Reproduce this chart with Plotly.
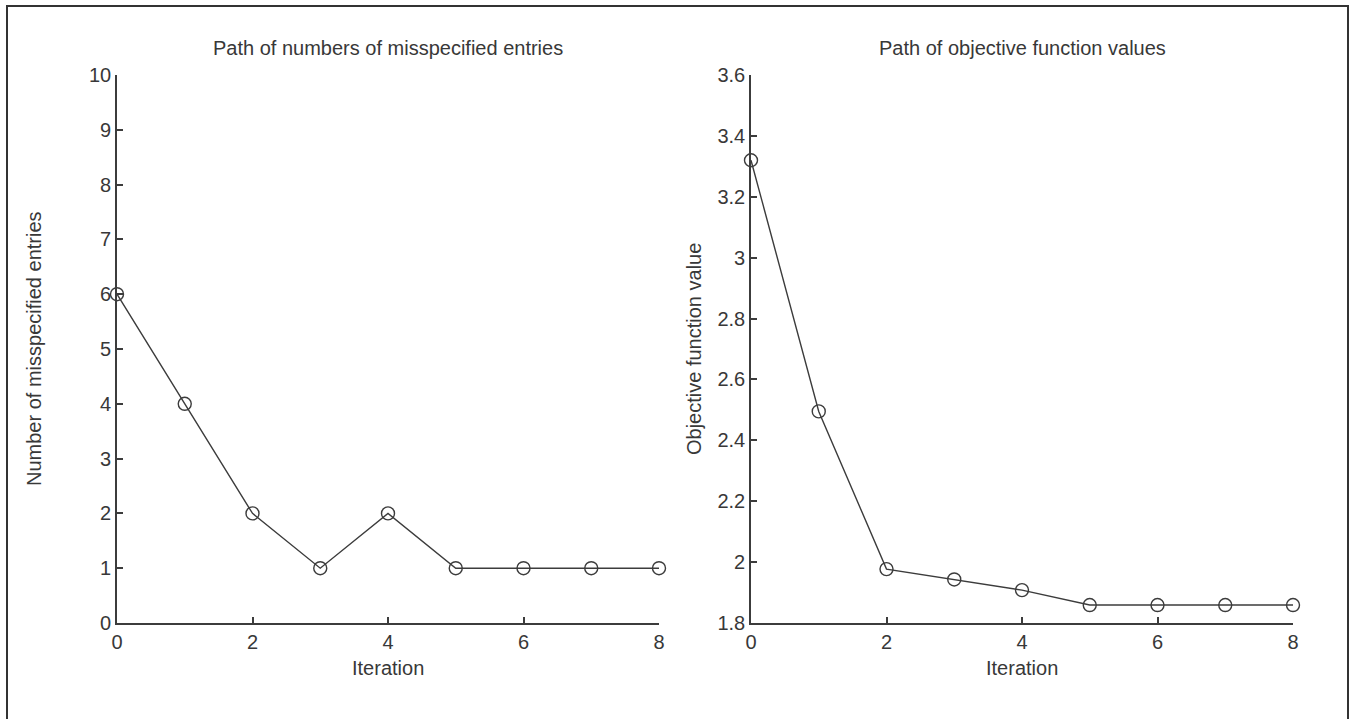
import plotly.graph_objects as go

iterations = [0, 1, 2, 3, 4, 5, 6, 7, 8]
misspecified = [6, 4, 2, 1, 2, 1, 1, 1, 1]
objective = [3.32, 2.495, 1.977, 1.943, 1.908, 1.859, 1.859, 1.859, 1.859]

left_title = "Path of numbers of misspecified entries"
right_title = "Path of objective function values"
x_title = "Iteration"
left_ytitle = "Number of misspecified entries"
right_ytitle = "Objective function value"

W, H = 1355, 719
def px(x):
    return x / W
def py(y):
    return 1 - y / H

col = "#3c3c3c"
txt = "#383838"
FS = 20
font = dict(family="Liberation Sans, Arial", size=FS, color=txt)

fig = go.Figure()
marker = dict(symbol="circle-open", size=13, color=col, line=dict(width=1.4, color=col))
fig.add_trace(go.Scatter(x=iterations, y=misspecified, mode="lines+markers",
                         line=dict(color=col, width=1.4), marker=marker,
                         xaxis="x", yaxis="y", showlegend=False, cliponaxis=False))
fig.add_trace(go.Scatter(x=iterations, y=objective, mode="lines+markers",
                         line=dict(color=col, width=1.4), marker=marker,
                         xaxis="x2", yaxis="y2", showlegend=False, cliponaxis=False))

axis_common = dict(showgrid=False, zeroline=False, showline=True, linecolor=col, linewidth=1.6,
                   ticks="inside", ticklen=6, tickcolor=col, tickwidth=1.6,
                   tickfont=font, automargin=False, mirror=False)

yd = [py(623), py(75)]
fig.update_layout(
    width=W, height=H,
    margin=dict(l=0, r=0, t=0, b=0),
    paper_bgcolor="white", plot_bgcolor="white",
    xaxis=dict(domain=[px(117), px(659)], range=[0, 8], tickvals=[0, 2, 4, 6, 8],
               anchor="y", **axis_common),
    yaxis=dict(domain=yd, range=[0, 10], tickvals=list(range(0, 11)),
               anchor="x", **axis_common),
    xaxis2=dict(domain=[px(751), px(1293)], range=[0, 8], tickvals=[0, 2, 4, 6, 8],
                anchor="y2", **axis_common),
    yaxis2=dict(domain=yd, range=[1.8, 3.6],
                tickvals=[1.8, 2, 2.2, 2.4, 2.6, 2.8, 3, 3.2, 3.4, 3.6],
                ticktext=["1.8", "2", "2.2", "2.4", "2.6", "2.8", "3", "3.2", "3.4", "3.6"],
                anchor="x2", **axis_common),
)

ann = []
ann.append(dict(text=left_title, x=px(388), y=py(48), xref="paper", yref="paper",
                showarrow=False, font=font, xanchor="center", yanchor="middle"))
ann.append(dict(text=right_title, x=px(1022), y=py(48), xref="paper", yref="paper",
                showarrow=False, font=font, xanchor="center", yanchor="middle"))
ann.append(dict(text=x_title, x=px(388), y=py(668), xref="paper", yref="paper",
                showarrow=False, font=font, xanchor="center", yanchor="middle"))
ann.append(dict(text=x_title, x=px(1022), y=py(668), xref="paper", yref="paper",
                showarrow=False, font=font, xanchor="center", yanchor="middle"))
ann.append(dict(text=left_ytitle, x=px(34), y=py(349), xref="paper", yref="paper",
                showarrow=False, font=font, textangle=-90, xanchor="center", yanchor="middle"))
ann.append(dict(text=right_ytitle, x=px(694), y=py(349), xref="paper", yref="paper",
                showarrow=False, font=font, textangle=-90, xanchor="center", yanchor="middle"))
fig.update_layout(annotations=ann)

fig.add_shape(type="rect", xref="paper", yref="paper",
              x0=px(7), x1=px(1348), y0=py(725), y1=py(6),
              line=dict(color="#333333", width=2), fillcolor="rgba(0,0,0,0)")

fig.write_html("out.html", config={"displayModeBar": False},
               post_script="document.body.style.margin='0px';")
